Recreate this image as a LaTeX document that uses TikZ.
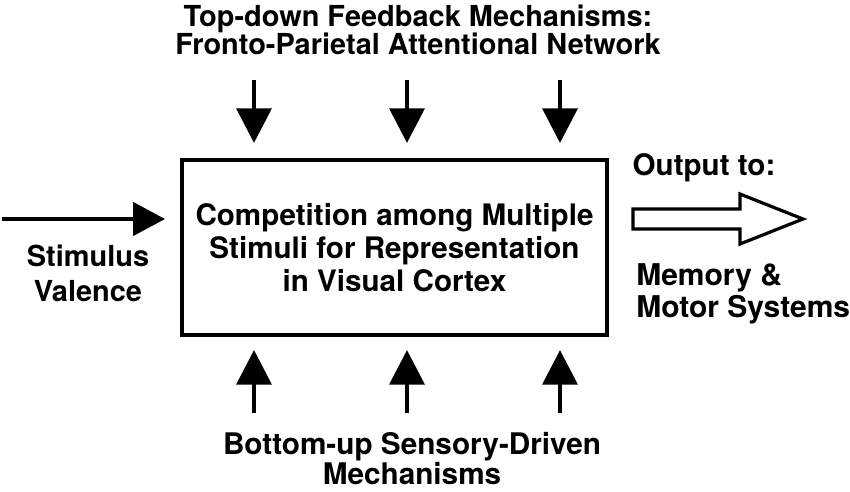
\documentclass[tikz,border=0pt]{standalone}
\usepackage{fontspec}
\setmainfont{TeX Gyre Heros}
\usepackage{tikz}
\usetikzlibrary{arrows.meta, positioning, calc}

\begin{document}
\begin{tikzpicture}[
    x=0.75pt, y=-0.75pt,
    cortex/.style={
        draw, line width=3pt, rectangle, outer sep=0pt,
        minimum width=318.75pt, minimum height=131.25pt,
        align=center, font=\fontsize{22.2}{24.75}\selectfont\bfseries
    },
    fb/.style={
        -{Triangle[length=26pt, width=26pt]}, line width=3.5pt
    },
    inarr/.style={
        -{Triangle[length=24pt, width=25pt]}, line width=2.6pt
    },
    hollow/.style={
        draw, line width=2.4pt, fill=white, line join=miter
    },
    lbl/.style={
        inner sep=0pt, align=center, font=\fontsize{21.7}{21}\selectfont\bfseries
    }
]
\useasboundingbox (0,0) rectangle (850,492);

% competition box
\node[cortex] (box) at (394.5,247.5) {Competition among Multiple\\
    Stimuli for Representation\\
    in Visual Cortex};

% top-down feedback
\node[lbl] (topdown) at (418,30) {Top-down Feedback Mechanisms:\\
    Fronto-Parietal Attentional Network};
\foreach \x in {254,407,560} {
    \coordinate (td\x) at (\x,80);
    \draw[fb, shorten >=12.75pt] (td\x) -- (td\x |- box.north);
}

% bottom-up sensory
\node[lbl, font=\fontsize{22.3}{22.5}\selectfont\bfseries] (bottomup) at (412,459)
    {Bottom-up Sensory-Driven\\Mechanisms};
\foreach \x in {254,407,560} {
    \coordinate (bu\x) at (\x,413);
    \draw[fb, shorten >=11.25pt] (bu\x) -- (bu\x |- box.south);
}

% stimulus valence
\coordinate (valsrc) at (2,219);
\draw[inarr, shorten >=12.75pt] (valsrc) -- (valsrc -| box.west);
\node[lbl, font=\fontsize{21.7}{26}\selectfont\bfseries] (valence) at (88,273.5)
    {Stimulus\\Valence};

% output
\node[lbl, font=\fontsize{22.2}{24}\selectfont\bfseries] (output) at (704,168) {Output to:};
\coordinate (outtip) at (803,219);
\draw[hollow] (633,209) -- (740,209) -- (740,194) -- (outtip)
    -- (740,244) -- (740,229) -- (633,229) -- cycle;
\node[lbl, align=left, anchor=west, font=\fontsize{22.5}{24}\selectfont\bfseries]
    (memsys) at (636,294) {Memory \&\\Motor Systems};

\end{tikzpicture}
\end{document}
